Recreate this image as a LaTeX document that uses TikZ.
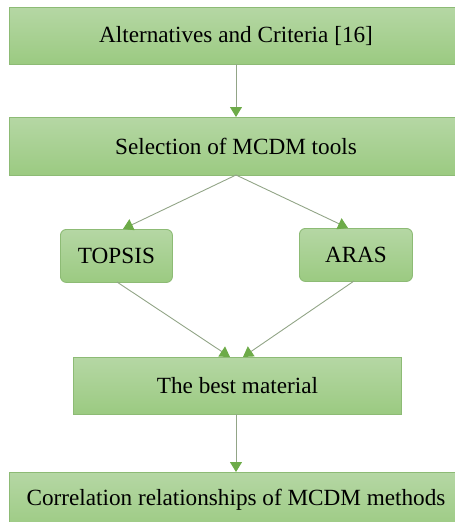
\documentclass[tikz,border=0pt]{standalone}
\usepackage{fontspec}
\setmainfont{Liberation Serif}
\usetikzlibrary{arrows.meta}
\definecolor{gtop}{HTML}{B5D7A4}
\definecolor{gbot}{HTML}{9BCA81}
\definecolor{gline}{HTML}{8DBB75}
\definecolor{connc}{HTML}{92A587}
\definecolor{tipc}{HTML}{6DAB48}
\tikzset{
  box/.style={draw=gline, line width=0.9pt, top color=gtop, bottom color=gbot, inner sep=0pt, font=\fontsize{23.2}{26}\selectfont},
  rbox/.style={box, rounded corners=6pt},
  lbl/.style={font=\fontsize{23.2}{26}\selectfont},
  conn/.style={draw=connc, line width=0.9pt, -{Triangle[length=10pt,width=12pt,fill=tipc,color=tipc]}}
}
\begin{document}
\begin{tikzpicture}[x=1pt,y=-1pt]
\useasboundingbox (0,0) rectangle (455,522);
\node[box, minimum width=448pt, minimum height=57pt, anchor=north west] (alt) at (9,7) {};
\node[lbl] (altt) at (236,36) {Alternatives and Criteria [16]};
\node[box, minimum width=448pt, minimum height=58pt, anchor=north west] (sel) at (9,117) {};
\node[lbl] (selt) at (236,146) {Selection of MCDM tools};
\node[rbox, minimum width=112pt, minimum height=53pt, anchor=north west] (top) at (60,229) {TOPSIS};
\node[rbox, minimum width=113pt, minimum height=53pt, anchor=north west] (aras) at (299,228) {ARAS};
\node[box, minimum width=328pt, minimum height=57pt, anchor=north west] (best) at (73,357) {The best material};
\node[box, minimum width=448pt, minimum height=60pt, anchor=north west] (cor) at (9,472) {};
\node[lbl] (cort) at (236,500) {Correlation relationships of MCDM methods};
\coordinate (altB) at (236,64);
\coordinate (selT) at (236,117);
\coordinate (selB) at (236,175);
\coordinate (topT) at (123,229);
\coordinate (arasT) at (348,228);
\coordinate (topB) at (117,282);
\coordinate (arasB) at (354,281);
\coordinate (bestTL) at (230,357);
\coordinate (bestTR) at (243,357);
\coordinate (bestB) at (236,414);
\coordinate (corT) at (236,472);
\draw[conn] (altB) -- (selT);
\draw[conn] (selB) -- (topT);
\draw[conn] (selB) -- (arasT);
\draw[conn] (topB) -- (bestTL);
\draw[conn] (arasB) -- (bestTR);
\draw[conn] (bestB) -- (corT);
\end{tikzpicture}
\end{document}
